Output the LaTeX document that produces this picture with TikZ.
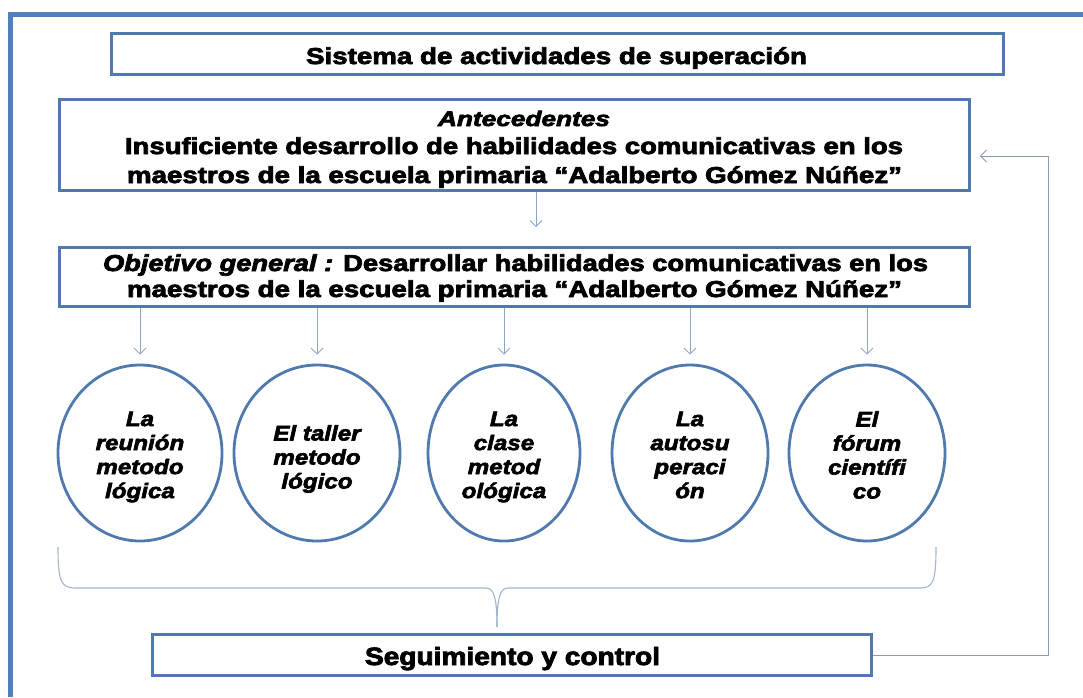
\documentclass[tikz,border=0pt]{standalone}
\usepackage{fontspec}
\usepackage{graphicx}
\usetikzlibrary{shapes.geometric,arrows.meta}
\setmainfont{Liberation Sans}
\newfontfamily\blk{Liberation Sans Bold}[FakeBold=3]
\newfontfamily\blki{Liberation Sans Bold Italic}[FakeBold=3]
\newfontfamily\elf{Liberation Sans Bold Italic}[FakeBold=3,FakeStretch=1.15]
\definecolor{framec}{HTML}{4F81BD}
\definecolor{boxc}{HTML}{5079AD}
\definecolor{arr}{HTML}{8EA8C6}
\definecolor{fbc}{HTML}{8C9CB0}
\definecolor{brc}{HTML}{A3B6CB}
\newcommand\fitw[2]{\resizebox{#1}{\height}{#2}}
\begin{document}
\begin{tikzpicture}[x=1pt,y=-1pt,
  box/.style={draw=boxc,line width=2.8pt,fill=white,inner sep=0pt},
  oval/.style={ellipse,draw=boxc,line width=2.8pt,inner sep=0pt,minimum height=176pt},
  con/.style={draw=arr,line width=0.9pt,-{Straight Barb[length=6pt,width=12pt]}},
  fb/.style={draw=fbc,line width=0.9pt,-{Straight Barb[length=6pt,width=12pt]}},
  bracel/.style={draw=brc,line width=1.1pt},
  txt/.style={inner sep=0pt,anchor=base},
  otxt/.style={align=center,font=\elf\fontsize{21}{24}\selectfont,inner sep=0pt}]
\useasboundingbox (0,0) rectangle (1083,697);
\draw[framec,line width=5pt] (10.5,697) -- (10.5,14) -- (1083,14);

% boxes
\node[box,minimum width=892pt,minimum height=41pt] (title) at (557.5,54) {};
\node[box,minimum width=910pt,minimum height=91pt] (ante) at (514.5,145) {};
\node[box,minimum width=910pt,minimum height=59pt] (obj) at (514.5,277) {};
\node[box,minimum width=719pt,minimum height=41pt] (seg) at (512,655) {};

% texts
\node[txt] (titlet) at (556.5,64) {\fitw{501pt}{\blk\fontsize{23}{27}\selectfont Sistema de actividades de superación}};
\node[txt] (antet) at (524,126) {\fitw{172pt}{\blki\fontsize{21}{25}\selectfont Antecedentes}};
\node[txt] (ante1) at (514,154) {\fitw{778pt}{\blk\fontsize{23}{27}\selectfont Insuficiente desarrollo de habilidades comunicativas en los}};
\node[txt] (ante2) at (514.5,183) {\fitw{775pt}{\blk\fontsize{23}{27}\selectfont maestros de la escuela primaria “Adalberto Gómez Núñez”}};
\node[txt] (obj1) at (515.5,271) {\fitw{825pt}{\fontsize{23}{27}\selectfont{\blki Objetivo general :} {\blk Desarrollar habilidades comunicativas en los}}};
\node[txt] (obj2) at (514.5,297) {\fitw{775pt}{\blk\fontsize{23}{27}\selectfont maestros de la escuela primaria “Adalberto Gómez Núñez”}};
\node[txt] (segt) at (512.5,665) {\fitw{295pt}{\blk\fontsize{25}{29}\selectfont Seguimiento y control}};

% ellipses
\node[oval,minimum width=164pt] (e1) at (140,453) {};
\node[oval,minimum width=166pt] (e2) at (317,453) {};
\node[oval,minimum width=152pt] (e3) at (504,453) {};
\node[oval,minimum width=156pt] (e4) at (690,453) {};
\node[oval,minimum width=156pt] (e5) at (867,453) {};
\node[otxt] (t1) at (140,457) {La\\reunión\\metodo\\lógica};
\node[otxt] (t2) at (317,459) {El taller\\metodo\\lógico};
\node[otxt] (t3) at (504,457) {La\\clase\\metod\\ológica};
\node[otxt] (t4) at (690,455) {La\\autosu\\peraci\\ón};
\node[otxt] (t5) at (867,455) {El\\fórum\\científi\\co};

% connectors
\draw[con,shorten >=19pt] ([xshift=21.5pt]ante.south) -- ([xshift=21.5pt]obj.north);
\foreach \e in {e1,e2,e3,e4,e5}
  \draw[con,shorten >=9pt] (\e.north |- obj.south) -- (\e.north);

% feedback
\coordinate (fbc) at (1048,156);
\draw[fb,shorten >=9pt] (seg.east) -| (fbc) -- (ante.east |- fbc);

% brace
\coordinate (bt) at (497,627);
\draw[bracel] (58,547) .. controls (58,582) and (61,588) .. (76,588) -- (486,588)
  .. controls (494,588) and (497,598) .. (bt);
\draw[bracel] (bt) .. controls (497,598) and (500,588) .. (508,588) -- (920,588)
  .. controls (933,588) and (936,582) .. (936,547);
\end{tikzpicture}
\end{document}
